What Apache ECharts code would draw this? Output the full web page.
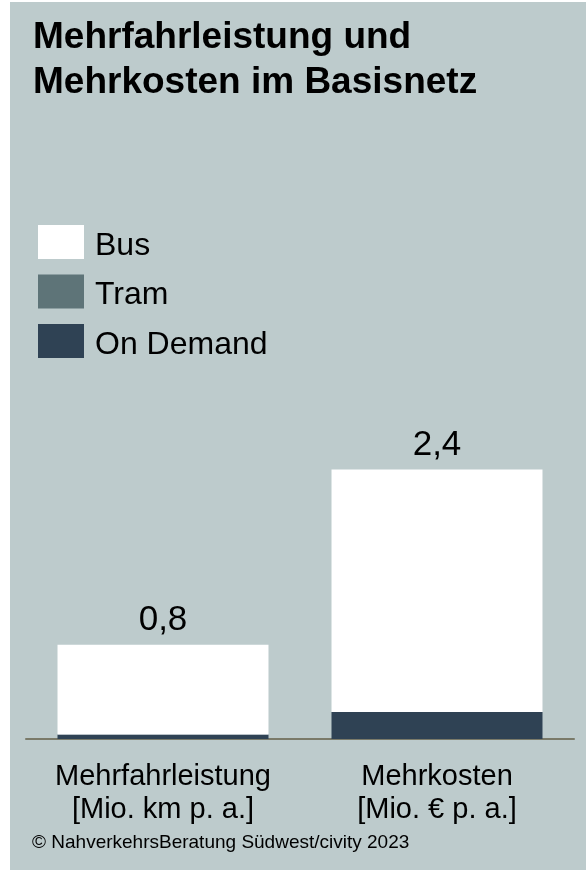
<!DOCTYPE html>
<html>
<head>
<meta charset="utf-8">
<script src="https://cdn.jsdelivr.net/npm/echarts@6/dist/echarts.min.js"></script>
<style>
  html, body { margin: 0; padding: 0; background: #ffffff; }
  #bg { position: absolute; left: 10px; top: 2px; width: 576px; height: 868px; background: #bdcbcc; }
  #c { position: absolute; left: 0; top: 0; width: 586px; height: 870px; }
</style>
</head>
<body>
<div id="bg"></div>
<div id="c"></div>
<script>
const titleText = "Mehrfahrleistung und\nMehrkosten im Basisnetz";
const categories = ["Mehrfahrleistung\n[Mio. km p. a.]", "Mehrkosten\n[Mio. € p. a.]"];
const seriesNames = ["Bus", "Tram", "On Demand"];
const busValues = [0.80, 2.16];
const tramValues = [0, 0];
const onDemandValues = [0.04, 0.24];
const totals = [0.84, 2.40];
const footerText = "© NahverkehrsBeratung Südwest/civity 2023";

const FONT = "'Liberation Sans', Arial, Helvetica, sans-serif";
const chart = echarts.init(document.getElementById('c'), null, { renderer: 'canvas' });

const fmt = v => v.toFixed(1).replace('.', ',');

chart.setOption({
  backgroundColor: 'transparent',
  animation: false,
  textStyle: { fontFamily: FONT },
  title: {
    text: titleText,
    left: 28,
    top: 10,
    textStyle: { fontFamily: FONT, fontSize: 37, fontWeight: 'bold', color: '#000', lineHeight: 45 }
  },
  legend: {
    data: seriesNames,
    orient: 'vertical',
    left: 33,
    top: 220,
    itemWidth: 46,
    itemHeight: 34,
    itemGap: 12.5,
    icon: 'rect',
    selectedMode: false,
    formatter: name => '{t|' + name + '}',
    textStyle: {
      fontFamily: FONT, fontSize: 32, color: '#000',
      rich: { t: { fontFamily: FONT, fontSize: 32, color: '#000', padding: [8, 0, 0, 6] } }
    }
  },
  graphic: [{
    type: 'text',
    left: 32,
    top: 833,
    style: { text: footerText, fontFamily: FONT, fontSize: 19, fill: '#000' }
  }],
  grid: { left: 26, right: 12, top: 402, bottom: 131, containLabel: false },
  xAxis: {
    type: 'category',
    data: categories,
    axisLine: { show: true, lineStyle: { color: '#7a7a69', width: 2 } },
    axisTick: { show: false },
    axisLabel: { fontFamily: FONT, fontSize: 29, lineHeight: 33, color: '#000', margin: 21, interval: 0 }
  },
  yAxis: {
    type: 'value',
    min: 0,
    max: 3,
    show: false,
    splitLine: { show: false }
  },
  series: [
    {
      name: 'On Demand', type: 'bar', stack: 'total', data: onDemandValues,
      itemStyle: { color: '#2f4254' }, barCategoryGap: '23%'
    },
    {
      name: 'Tram', type: 'bar', stack: 'total', data: tramValues,
      itemStyle: { color: '#5e7478' }
    },
    {
      name: 'Bus', type: 'bar', stack: 'total', data: busValues,
      itemStyle: { color: '#ffffff' },
      label: {
        show: true, position: 'top', distance: 7,
        fontFamily: FONT, fontSize: 35, color: '#000',
        formatter: p => fmt(totals[p.dataIndex])
      }
    }
  ]
});
</script>
</body>
</html>
